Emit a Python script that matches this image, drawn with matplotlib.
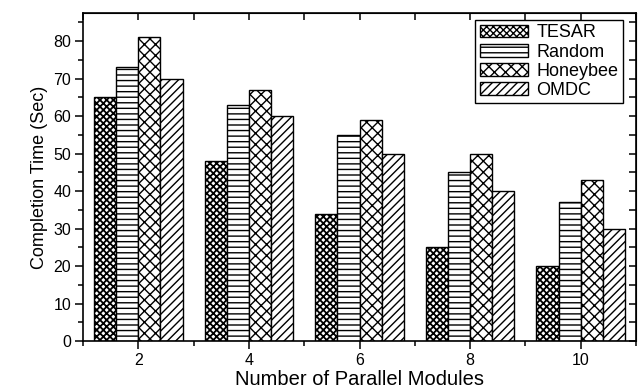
import numpy as np
import matplotlib
matplotlib.use('Agg')
import matplotlib.pyplot as plt
from matplotlib.ticker import MultipleLocator

plt.rcParams['font.family'] = ['Liberation Sans', 'DejaVu Sans']
plt.rcParams['hatch.linewidth'] = 1.0

modules = [2, 4, 6, 8, 10]
tesar = [65, 48, 34, 25, 20]
random_ = [73, 63, 55, 45, 37]
honeybee = [81, 67, 59, 50, 43]
omdc = [70, 60, 50, 40, 30]

series = [('TESAR', tesar, 'xxxxx'),
          ('Random', random_, '---'),
          ('Honeybee', honeybee, 'xxx'),
          ('OMDC', omdc, '////')]

width = 0.4
fig = plt.figure(figsize=(6.42, 3.88), dpi=100)
ax = fig.add_axes([0.1293, 0.1211, 0.8614, 0.8454])

x = np.array(modules, dtype=float)
for i, (name, vals, hatch) in enumerate(series):
    bars = ax.bar(x + (i - 2) * width, vals, width, align='edge', color='white',
                  edgecolor='black', linewidth=1.0, hatch=hatch, label=name)
    if name == 'TESAR':
        for b in bars:
            if hasattr(b, 'set_hatch_linewidth'):
                b.set_hatch_linewidth(1.3)

ax.set_xlim(1, 11)
ax.set_ylim(0, 87.5)
ax.set_xticks(modules)
ax.set_yticks(np.arange(0, 81, 10))
ax.xaxis.set_minor_locator(MultipleLocator(1))
ax.yaxis.set_minor_locator(MultipleLocator(5))
ax.tick_params(which='major', direction='out', length=6, width=1.1, labelsize=11.5, pad=2.5)
ax.tick_params(which='minor', direction='out', length=3.5, width=1.1)
for s in ax.spines.values():
    s.set_linewidth(1.2)

# mirrored ticks pointing inward on the top and right edges
top = ax.secondary_xaxis('top')
top.set_xticks(modules)
top.xaxis.set_minor_locator(MultipleLocator(1))
top.tick_params(which='both', direction='in', length=5, width=1.1, labeltop=False)
right = ax.secondary_yaxis('right')
right.set_yticks(np.arange(0, 81, 10))
right.yaxis.set_minor_locator(MultipleLocator(5))
right.tick_params(which='both', direction='in', length=5, width=1.1, labelright=False)

ax.set_xlabel('Number of Parallel Modules', fontsize=14.5, va='baseline')
ax.xaxis.set_label_coords(0.5, -0.134)
ax.set_ylabel('Completion Time (Sec)', fontsize=13, labelpad=4)

leg = ax.legend(loc='upper right', bbox_to_anchor=(0.9765, 0.979), borderaxespad=0,
                fontsize=13, fancybox=False, edgecolor='black', framealpha=1,
                handlelength=2.7, handleheight=0.7, handletextpad=0.45,
                labelspacing=0.12, borderpad=0.25)
leg.get_frame().set_linewidth(1.0)

fig.savefig('out.png', dpi=100)
